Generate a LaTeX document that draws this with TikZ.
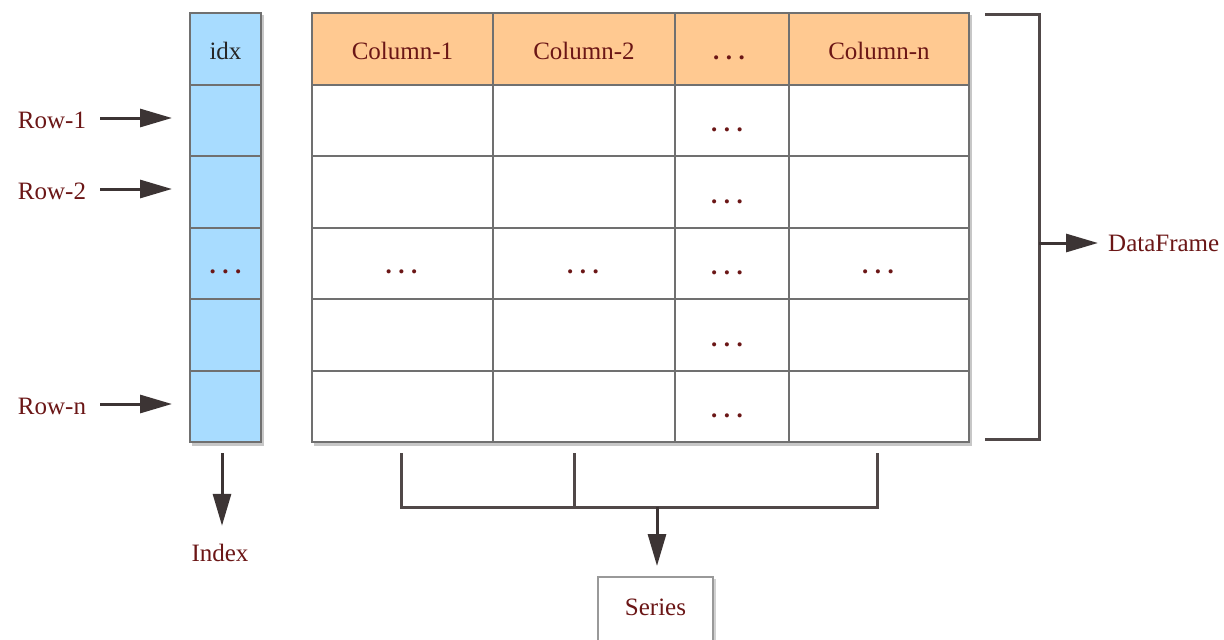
\documentclass[tikz,border=0pt]{standalone}
\usepackage{fontspec}
\setmainfont{Liberation Serif}
\usetikzlibrary{arrows.meta,shadows}
\definecolor{hdr}{HTML}{FFC991}
\definecolor{idxc}{HTML}{A8DCFF}
\definecolor{txt}{HTML}{6B1616}
\definecolor{ink}{HTML}{3C3434}
\definecolor{bord}{HTML}{707070}
\newcommand{\dd}{\textbf{.\kern6.5pt.\kern6.5pt.}}
\tikzset{
  cell/.style={draw=bord, line width=2pt, rectangle, minimum height=71.5pt, inner sep=0pt, font=\fontsize{25}{29}\selectfont, text=txt, text height=20pt, text depth=0pt},
  icell/.style={cell, fill=idxc, minimum width=71pt},
  hcell/.style={cell, fill=hdr},
  wcell/.style={cell, fill=white},
  lbl/.style={font=\fontsize{25}{29}\selectfont, text=txt, inner sep=1pt, text height=20pt, text depth=0pt},
  arr/.style={draw=ink, line width=3pt, -{Triangle[length=32pt,width=18pt]}},
  brk/.style={draw=ink!90!white, line width=3pt}
}
\begin{document}
\begin{tikzpicture}[x=1pt,y=-1pt]
\useasboundingbox (0,0) rectangle (1224,640);
% shadows
\fill[black!22] (192,15) rectangle (264,446);
\fill[black!22] (314,15) rectangle (972,446);
% index column
\node[icell, text=black!85] (idx0) at (225.5,49) {idx};
\node[icell] (idx1) at (225.5,120.5) {};
\node[icell] (idx2) at (225.5,192) {};
\node[icell] (idx3) at (225.5,263.5) {\dd};
\node[icell] (idx4) at (225.5,335) {};
\node[icell] (idx5) at (225.5,406.5) {};
% table header
\node[hcell, minimum width=181pt] (h1) at (402.5,49) {Column-1};
\node[hcell, minimum width=182pt] (h2) at (584,49) {Column-2};
\node[hcell, minimum width=114pt] (h3) at (732,49) {};
\node[hcell, minimum width=180pt] (h4) at (879,49) {Column-n};
\node[lbl] at (729,49) {\dd};
% body rows
\foreach \r/\y in {1/120.5,2/192,3/263.5,4/335,5/406.5}{
  \node[wcell, minimum width=181pt] (c\r1) at (402.5,\y) {};
  \node[wcell, minimum width=182pt] (c\r2) at (584,\y) {};
  \node[wcell, minimum width=114pt] (c\r3) at (732,\y) {};
  \node[wcell, minimum width=180pt] (c\r4) at (879,\y) {};
  \node[lbl] at (727,\y+1) {\dd};
}
\node[lbl] at ([xshift=-1pt]c31) {\dd};
\node[lbl] at ([xshift=-1pt]c32) {\dd};
\node[lbl] at ([xshift=-1pt]c34) {\dd};
% row labels
\node[lbl] (row1) at (52,118) {Row-1};
\node[lbl] (row2) at (52,189) {Row-2};
\node[lbl] (rown) at (52,404) {Row-n};
\draw[arr, shorten <=13pt, shorten >=17pt] (row1.east) -- (row1.east -| idx1.west);
\draw[arr, shorten <=13pt, shorten >=17pt] (row2.east) -- (row2.east -| idx2.west);
\draw[arr, shorten <=13pt, shorten >=17pt] (rown.east) -- (rown.east -| idx5.west);
% index arrow
\node[lbl] (index) at (220,551) {Index};
\coordinate (ia) at (222,442);
\draw[arr, shorten <=11pt, shorten >=14pt] (ia) -- (ia |- index.north);
% right bracket
\coordinate (b1) at (985,14);
\coordinate (b2) at (1039,14);
\coordinate (b3) at (1039,439);
\coordinate (b4) at (985,439);
\coordinate (bm) at (1039,243);
\draw[brk] (b1) -- (b2) -- (b3) -- (b4);
\node[lbl, anchor=west] (df) at (1107,241) {DataFrame};
\draw[arr, shorten >=9pt] (bm) -- (bm -| df.west);
% bottom bracket
\coordinate (s1) at (401,453);
\coordinate (s2) at (574,453);
\coordinate (s3) at (877,453);
\coordinate (t1) at (401,507);
\coordinate (t2) at (574,507);
\coordinate (t3) at (877,507);
\coordinate (tm) at (657,507);
\draw[brk] (s1) -- (t1) -- (t3) -- (s3);
\draw[brk] (s2) -- (t2);
\fill[black!18] (600,579) rectangle (716,648);
\node[draw=black!40, line width=2pt, fill=white, minimum width=115pt, minimum height=68pt, lbl, inner sep=0pt, text height=8pt, text depth=0pt] (series) at (655.5,611) {Series};
\draw[arr, shorten >=10pt] (tm) -- (tm |- series.north);
\end{tikzpicture}
\end{document}
